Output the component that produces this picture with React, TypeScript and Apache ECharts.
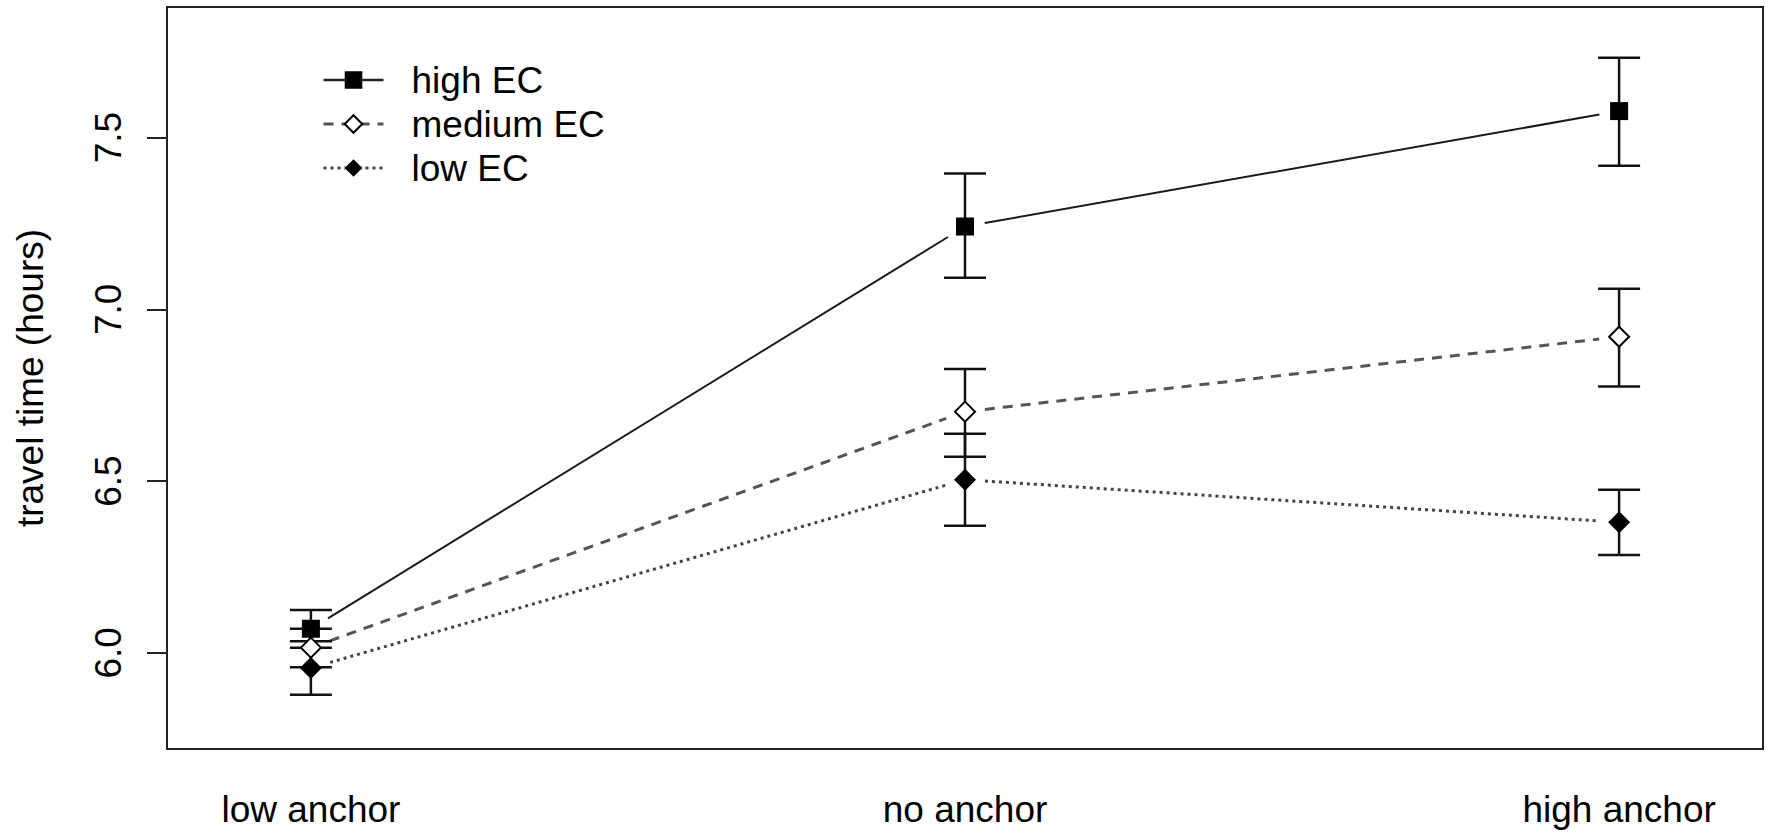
import React, { useEffect, useRef } from "react";
import * as echarts from "echarts";

const categories = ["low anchor", "no anchor", "high anchor"];
const seriesNames = ["high EC", "medium EC", "low EC"];
const xPositions = [1, 2, 3];

const highMean = [6.07, 7.241, 7.577];
const highLower = [6.015, 7.092, 7.418];
const highUpper = [6.125, 7.395, 7.732];

const medMean = [6.015, 6.702, 6.92];
const medLower = [5.958, 6.571, 6.775];
const medUpper = [6.07, 6.826, 7.06];

const lowMean = [5.956, 6.504, 6.38];
const lowLower = [5.878, 6.37, 6.285];
const lowUpper = [6.034, 6.638, 6.475];

const yTicks = [6.0, 6.5, 7.0, 7.5];

const FONT = "'Liberation Sans', Arial, sans-serif";

const GAP = 20;

function segData(means: number[]) {
  return means.slice(0, -1).map((m, i) => [xPositions[i], m, xPositions[i + 1], means[i + 1]]);
}

function segSeries(name: string, means: number[], stroke: string, width: number, dash: number[] | null) {
  return {
    type: "custom",
    name: name + " line",
    silent: true,
    z: 2,
    data: segData(means),
    encode: { x: [0, 2], y: [1, 3] },
    renderItem: (params: any, api: any) => {
      const a = api.coord([api.value(0), api.value(1)]);
      const b = api.coord([api.value(2), api.value(3)]);
      const dx = b[0] - a[0];
      const dy = b[1] - a[1];
      const len = Math.hypot(dx, dy);
      const ux = dx / len;
      const uy = dy / len;
      return {
        type: "line",
        shape: { x1: a[0] + ux * GAP, y1: a[1] + uy * GAP, x2: b[0] - ux * GAP, y2: b[1] - uy * GAP },
        style: { stroke, lineWidth: width, lineDash: dash || undefined, fill: null },
      };
    },
  };
}

function errSeries(name: string, lower: number[], upper: number[]) {
  return {
    type: "custom",
    name: name + " err",
    silent: true,
    z: 3,
    data: lower.map((l, i) => [xPositions[i], l, upper[i]]),
    encode: { x: 0, y: [1, 2] },
    renderItem: (params: any, api: any) => {
      const lo = api.coord([api.value(0), api.value(1)]);
      const hi = api.coord([api.value(0), api.value(2)]);
      const hw = 21;
      const st = { stroke: "#111", lineWidth: 2.5, fill: null };
      return {
        type: "group",
        children: [
          { type: "line", shape: { x1: lo[0], y1: lo[1], x2: hi[0], y2: hi[1] }, style: st },
          { type: "line", shape: { x1: lo[0] - hw, y1: lo[1], x2: lo[0] + hw, y2: lo[1] }, style: st },
          { type: "line", shape: { x1: hi[0] - hw, y1: hi[1], x2: hi[0] + hw, y2: hi[1] }, style: st },
        ],
      };
    },
  };
}

function markerSeries(name: string, means: number[], symbol: string, size: number, fill: string) {
  return {
    type: "line",
    name,
    z: 5,
    data: means.map((m, i) => [xPositions[i], m]),
    symbol,
    symbolSize: size,
    showSymbol: true,
    silent: true,
    lineStyle: { opacity: 0, width: 0 },
    itemStyle: { color: fill, borderColor: "#000", borderWidth: fill === "#fff" ? 2 : 0, opacity: 1 },
  };
}

export default function App() {
  const ref = useRef<HTMLDivElement>(null);
  useEffect(() => {
    if (!ref.current) return;
    const chart = echarts.init(ref.current, null, { renderer: "svg" });
    const option: any = {
      animation: false,
      backgroundColor: "#fff",
      textStyle: { fontFamily: FONT },
      grid: {
        left: 167,
        right: 9,
        top: 7,
        bottom: 87,
        show: true,
        borderColor: "#222",
        borderWidth: 2,
        backgroundColor: "transparent",
      },
      legend: {
        orient: "vertical",
        left: 322,
        top: 58,
        padding: 0,
        itemGap: 0,
        itemWidth: 60,
        itemHeight: 22,
        selectedMode: false,
        textStyle: { fontSize: 37, fontFamily: FONT, color: "#000", lineHeight: 44, padding: [0, 0, 0, 23] },
        data: [
          { name: seriesNames[0], lineStyle: { color: "#222", width: 2.5, type: "solid", opacity: 1 } },
          { name: seriesNames[1], lineStyle: { color: "#555", width: 3, type: [10, 8], opacity: 1 } },
          { name: seriesNames[2], lineStyle: { color: "#444", width: 3, type: [3, 4], opacity: 1 } },
        ],
      },
      xAxis: {
        type: "value",
        min: 0.78,
        max: 3.22,
        axisLine: { show: false },
        axisTick: { show: false },
        splitLine: { show: false },
        axisLabel: {
          customValues: xPositions,
          formatter: (v: number) => categories[Math.round(v) - 1] || "",
          margin: 42,
          fontSize: 37,
          color: "#000",
          fontFamily: FONT,
        },
      },
      yAxis: {
        type: "value",
        min: 5.72,
        max: 7.88,
        name: "travel time (hours)",
        nameLocation: "middle",
        nameGap: 118,
        nameRotate: 90,
        nameTextStyle: { fontSize: 37, color: "#000", fontFamily: FONT },
        axisLine: { show: false },
        splitLine: { show: false },
        axisTick: { show: true, length: 20, customValues: yTicks, lineStyle: { color: "#222", width: 2 } },
        axisLabel: {
          rotate: 90,
          margin: 40,
          fontSize: 37,
          color: "#000",
          fontFamily: FONT,
          customValues: yTicks,
          formatter: (v: number) => v.toFixed(1),
        },
      },
      series: [
        segSeries(seriesNames[0], highMean, "#1a1a1a", 2, null),
        segSeries(seriesNames[1], medMean, "#555", 3, [10, 8]),
        segSeries(seriesNames[2], lowMean, "#444", 3, [3, 4]),
        errSeries(seriesNames[0], highLower, highUpper),
        errSeries(seriesNames[1], medLower, medUpper),
        errSeries(seriesNames[2], lowLower, lowUpper),
        markerSeries(seriesNames[0], highMean, "rect", 18, "#000"),
        markerSeries(seriesNames[1], medMean, "diamond", 20, "#fff"),
        markerSeries(seriesNames[2], lowMean, "diamond", 22, "#000"),
      ],
    };
    chart.setOption(option);
    return () => chart.dispose();
  }, []);
  return (
    <div
      ref={ref}
      style={{ position: "absolute", left: 0, top: 0, width: 1772, height: 836 }}
    />
  );
}
